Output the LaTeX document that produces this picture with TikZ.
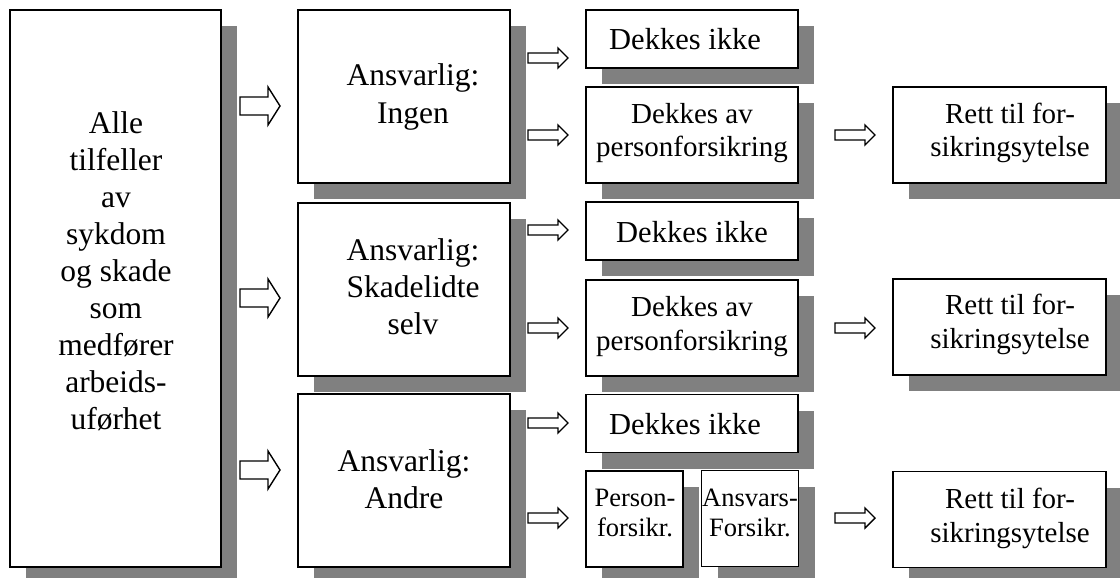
\documentclass[tikz,border=0pt]{standalone}
\usepackage{fontspec}
\setmainfont{Liberation Serif}
\usetikzlibrary{shadows}
\definecolor{shadowgray}{HTML}{808080}

% thin block arrow between the coverage columns
\newcommand\thinblock[1]{%
  \draw[blockarrow] (#1) ++(0,-5) -- ++(30,0) -- ++(0,-5) -- ++(10,10)
    -- ++(-10,10) -- ++(0,-5) -- ++(-30,0) -- cycle;}
% wide block arrow out of the first column
\newcommand\wideblock[1]{%
  \draw[blockarrow] (#1) ++(0,-9) -- ++(28,0) -- ++(0,-10) -- ++(12,19)
    -- ++(-12,19) -- ++(0,-10) -- ++(-28,0) -- cycle;}

\begin{document}
\begin{tikzpicture}[x=1pt,y=-1pt,
  box/.style={draw=black, line width=1.3pt, fill=white, rectangle, inner sep=0pt,
    general shadow={fill=shadowgray, shadow xshift=16pt, shadow yshift=-16pt}},
  tallbox/.style={box, minimum width=211pt, minimum height=557pt},
  whobox/.style={box, minimum width=212pt, minimum height=173pt},
  lowbox/.style={box, minimum width=212pt, minimum height=58pt},
  midbox/.style={box, minimum width=212pt, minimum height=96pt},
  halfbox/.style={box, minimum width=97pt, minimum height=96pt},
  blockarrow/.style={draw=black, line width=1.4pt, fill=white, line join=miter},
  % texts are placed by the baseline of their last line
  txt/.style={align=center, inner sep=0pt, anchor=base},
  large/.style={txt, font=\fontsize{31.5}{37}\selectfont},
  medium/.style={txt, font=\fontsize{29}{34}\selectfont},
  plain/.style={txt, font=\fontsize{30.5}{36}\selectfont},
  small/.style={txt, font=\fontsize{26.5}{30}\selectfont}]

\clip (0,0) rectangle (1120,578);
\fill[white] (0,0) rectangle (1120,578);

% first column
\node[tallbox] (alle) at (115.5,288.5) {};

% who is liable
\node[whobox] (ingen)  at (404,96.5) {};
\node[whobox] (selv)   at (404,289.5) {};
\node[whobox] (andre)  at (404,480.5) {};

% coverage
\node[lowbox] (ikke1) at (692,39) {};
\node[midbox] (pers1) at (692,135) {};
\node[lowbox] (ikke2) at (692,231) {};
\node[midbox] (pers2) at (692,328) {};
\node[lowbox] (ikke3) at (692,423.5) {};
\node[halfbox] (pforsikr) at (634.5,519) {};
\node[halfbox] (aforsikr) at (750,518.5) {};

% benefit
\node[midbox, minimum width=213pt] (rett1) at (999.5,135) {};
\node[midbox, minimum width=213pt] (rett2) at (999.5,327) {};
\node[midbox, minimum width=213pt] (rett3) at (999.5,519.5) {};

% texts
\node[large] (alle-t) at (116,429)
  {Alle\\tilfeller\\av\\sykdom\\og skade\\som\\medfører\\arbeids-\\uførhet};
\node[large] (ingen-t) at (413,123) {Ansvarlig:\\Ingen};
\node[large] (selv-t)  at (413,334) {Ansvarlig:\\Skadelidte\\selv};
\node[large] (andre-t) at (404,508) {Ansvarlig:\\Andre};

\node[plain] (ikke1-t) at (685,50) {Dekkes ikke};
\node[medium] (pers1-t) at (692,157) {Dekkes av\\personforsikring};
\node[plain] (ikke2-t) at (692,242) {Dekkes ikke};
\node[medium] (pers2-t) at (692,350) {Dekkes av\\personforsikring};
\node[plain] (ikke3-t) at (685,434) {Dekkes ikke};
\node[small] (pforsikr-t) at (635,536) {Person-\\forsikr.};
\node[small] (aforsikr-t) at (750,536) {Ansvars-\\Forsikr.};

\node[medium] (rett1-t) at (1010,157) {Rett til for-\\sikringsytelse};
\node[medium] (rett2-t) at (1010,348) {Rett til for-\\sikringsytelse};
\node[medium] (rett3-t) at (1010,542) {Rett til for-\\sikringsytelse};

% arrow anchors
\coordinate (w1) at (240,106);
\coordinate (w2) at (240,298);
\coordinate (w3) at (240,470);
\coordinate (a1) at (528,58);
\coordinate (a2) at (528,135);
\coordinate (a3) at (528,230);
\coordinate (a4) at (528,328);
\coordinate (a5) at (528,423);
\coordinate (a6) at (528,518);
\coordinate (b1) at (835,135);
\coordinate (b2) at (835,328);
\coordinate (b3) at (835,518);

\wideblock{w1}\wideblock{w2}\wideblock{w3}
\thinblock{a1}\thinblock{a2}\thinblock{a3}
\thinblock{a4}\thinblock{a5}\thinblock{a6}
\thinblock{b1}\thinblock{b2}\thinblock{b3}
\end{tikzpicture}
\end{document}
